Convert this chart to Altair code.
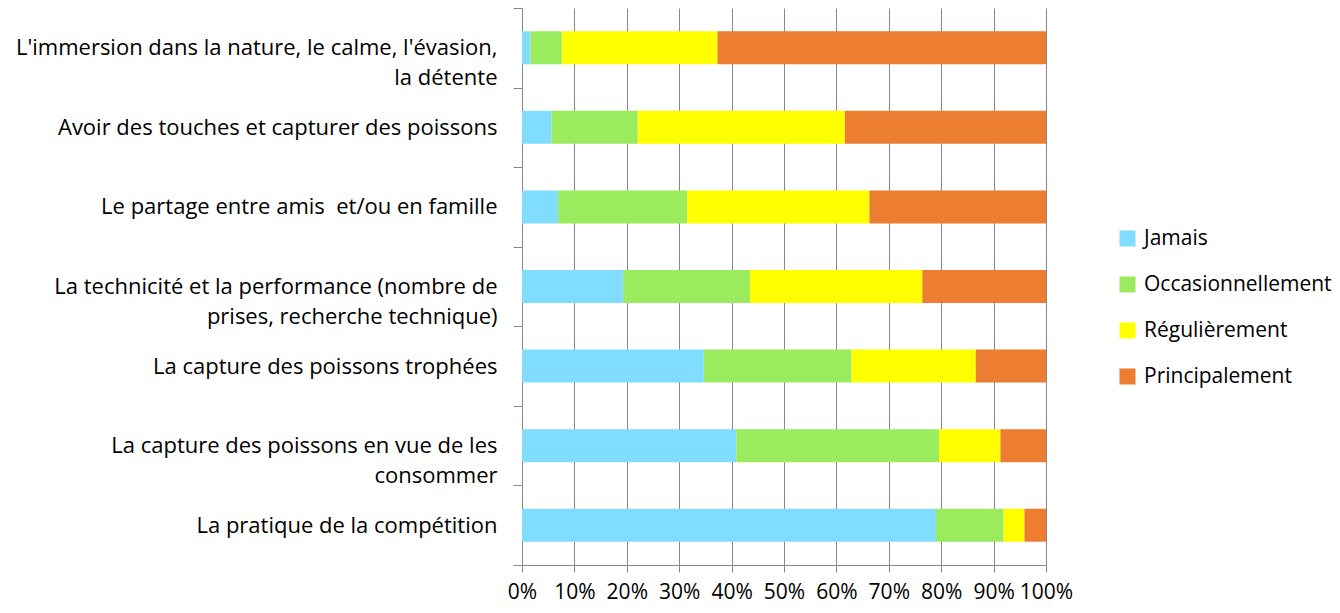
import altair as alt
import pandas as pd

categories = [
    "L'immersion dans la nature, le calme, l'évasion,\nla détente",
    "Avoir des touches et capturer des poissons",
    "Le partage entre amis \u00a0et/ou en famille",
    "La technicité et la performance (nombre de\nprises, recherche technique)",
    "La capture des poissons trophées",
    "La capture des poissons en vue de les\nconsommer",
    "La pratique de la compétition",
]
series = ["Jamais", "Occasionnellement", "Régulièrement", "Principalement"]
colors = ["#80DDFF", "#9BEB5E", "#FFFF00", "#ED7D31"]

jamais = [1.6, 5.6, 6.9, 19.3, 34.7, 40.9, 79.0]
occasionnellement = [6.0, 16.5, 24.6, 24.2, 28.2, 38.7, 12.9]
regulierement = [29.7, 39.5, 34.8, 32.9, 23.7, 11.7, 4.0]
principalement = [62.7, 38.4, 33.7, 23.6, 13.4, 8.7, 4.1]

values = [jamais, occasionnellement, regulierement, principalement]
rows = []
for si, (s, vals) in enumerate(zip(series, values)):
    for c, v in zip(categories, vals):
        rows.append({"cat": c, "serie": s, "val": v, "ord": si})
df = pd.DataFrame(rows)

FONT = "Open Sans"
GRAY = "#888888"

chart = alt.Chart(df).mark_bar(size=33).encode(
    y=alt.Y(
        "cat:N",
        sort=categories,
        title=None,
        scale=alt.Scale(paddingInner=0, paddingOuter=0),
        axis=alt.Axis(
            labelExpr="split(datum.label, '\\n')",
            labelFont=FONT,
            labelFontSize=22,
            labelColor="#000000",
            labelLimit=600,
            labelLineHeight=30,
            labelPadding=16,
            tickBand="extent",
            tickSize=9,
            tickColor=GRAY,
            domainColor=GRAY,
            grid=False,
        ),
    ),
    x=alt.X(
        "val:Q",
        stack="normalize",
        title=None,
        scale=alt.Scale(domain=[0, 1], nice=False),
        axis=alt.Axis(
            format=".0%",
            values=[i / 10 for i in range(11)],
            labelFont=FONT,
            labelFontSize=21,
            labelColor="#000000",
            labelPadding=9,
            tickSize=7,
            tickColor=GRAY,
            domainColor=GRAY,
            grid=True,
            gridColor=GRAY,
            gridWidth=1,
            labelFlush=False,
        ),
    ),
    color=alt.Color(
        "serie:N",
        sort=series,
        scale=alt.Scale(domain=series, range=colors),
        legend=alt.Legend(
            title=None,
            orient="none",
            legendX=595,
            legendY=220,
            padding=0,
            symbolType="square",
            symbolSize=256,
            symbolStrokeWidth=0,
            symbolOpacity=1,
            labelFont=FONT,
            labelFontSize=21,
            labelColor="#000000",
            labelLimit=400,
            labelOffset=6,
            rowPadding=24,
        ),
    ),
    order=alt.Order("ord:Q"),
).properties(
    width=524,
    height=557,
    autosize=alt.AutoSizeParams(type="none"),
    padding={"left": 514, "top": 0, "right": 286, "bottom": 40},
).configure_view(stroke=None)

chart.save("out.html", embed_options={"renderer": "svg", "actions": False})
